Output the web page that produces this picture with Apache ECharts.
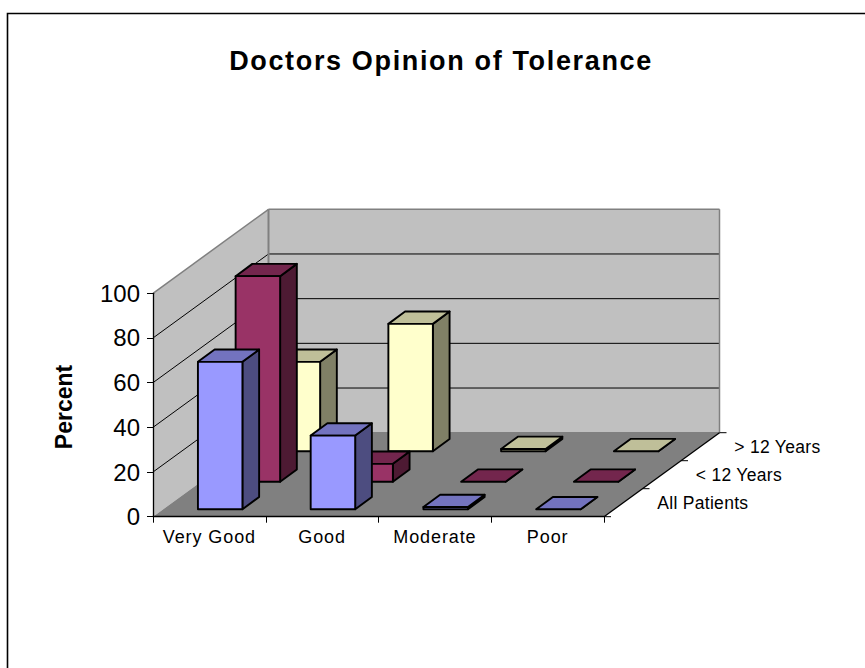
<!DOCTYPE html>
<html>
<head>
<meta charset="utf-8">
<style>
html,body{margin:0;padding:0;background:#fff}
#c{width:865px;height:668px}
text[style*="27px"]{letter-spacing:1.65px}
text[style*="18px"]{letter-spacing:.9px}
text[style*="17.5px"]{letter-spacing:.3px}
</style>
<script src="https://cdn.jsdelivr.net/npm/echarts@6/dist/echarts.min.js"></script>
</head>
<body>
<div id="c"></div>
<script>
var categories = ['Very Good', 'Good', 'Moderate', 'Poor'];
var rowNames = ['All Patients', '< 12 Years', '> 12 Years'];
var allPatients = [66, 33, 1, 0];
var under12 = [92, 8, 0, 0];
var over12 = [40, 57, 1, 0];
var yTicks = [20, 40, 60, 80];

var rowValues = [allPatients, under12, over12];
var faces = [
  { front: '#9999FF', top: '#7373BF', side: '#4D4D80' },
  { front: '#993366', top: '#73264D', side: '#4D1A33' },
  { front: '#FFFFCC', top: '#BFBF99', side: '#808066' }
];
var DX = 115.5, DY = 84;              // oblique depth of the floor
var rowX = [10.8, 48.5, 88.5], rowY = [7.4, 35, 65.5];
var BAR_W = 44.5, BAR_DX = 16.7, BAR_DY = 12.3;

function poly(pts, fill, z2, stroke, lw) {
  return { type: 'polygon', z2: z2, shape: { points: pts },
    style: { fill: fill, stroke: stroke || null, lineWidth: lw || 0, lineJoin: 'round' } };
}
function seg(a, b, color, lw, z2) {
  return { type: 'line', z2: z2, shape: { x1: a[0], y1: a[1], x2: b[0], y2: b[1] },
    style: { stroke: color, lineWidth: lw } };
}
function renderWalls(params, api) {
  var n = categories.length;
  var bl = api.coord([0, 0]), bandW = api.size([1, 0])[0];
  var x0 = bl[0] - bandW / 2, x1 = x0 + bandW * n;
  var y0 = bl[1], yTop = api.coord([0, 100])[1];
  var kids = [];
  var A = [x0, y0], B = [x1, y0], C = [x1 + DX, y0 - DY], D = [x0 + DX, y0 - DY];
  var At = [x0, yTop], Dt = [x0 + DX, yTop - DY], Ct = [x1 + DX, yTop - DY];
  kids.push(poly([At, Dt, D, A], '#C0C0C0', 1));
  kids.push(poly([Dt, Ct, C, D], '#C0C0C0', 1));
  kids.push(poly([A, B, C, D], '#808080', 2));
  yTicks.forEach(function (t) {
    var y = api.coord([0, t])[1];
    kids.push(seg([x0, y], [x0 + DX, y - DY], '#000', 1, 3));
    kids.push(seg([x0 + DX, y - DY], [x1 + DX, y - DY], '#000', 1, 3));
  });
  kids.push(seg(At, Dt, '#808080', 1.5, 4));
  kids.push(seg(Dt, Ct, '#808080', 1.5, 4));
  kids.push(seg(Dt, D, '#808080', 2, 4));
  kids.push(seg(Ct, C, '#808080', 1.5, 4));
  kids.push(seg(D, C, '#808080', 1.5, 4));
  kids.push(seg(B, C, '#000', 1.3, 5));
  // depth axis ticks and labels
  rowNames.forEach(function (name, r) {
    var f = (r + 1) / rowNames.length;
    var p = [x1 + DX * f, y0 - DY * f];
    kids.push(seg(p, [p[0] + 7, p[1]], '#000', 1, 5));
    var m = (r + 0.5) / rowNames.length;
    kids.push({ type: 'text', z2: 6, style: {
      x: x1 + DX * m + 34, y: y0 - DY * m, text: name, fill: '#000',
      font: '17.5px "Liberation Sans", Arial, sans-serif', align: 'left', verticalAlign: 'middle' } });
  });
  kids.push(seg(B, [B[0] + 7, B[1]], '#000', 1, 5));
  return { type: 'group', children: kids };
}
function barRenderer(r) {
  return function (params, api) {
    var c = api.coord([api.value(0), 0]);
    var t = api.coord([api.value(0), api.value(1)]);
    var l = c[0] + rowX[r] - BAR_W / 2, rr = l + BAR_W;
    var b = c[1] - rowY[r], top = b - (c[1] - t[1]);
    var col = faces[r];
    var lw = 1.9, kids = [];
    if (b > top) kids.push(poly([[l, top], [rr, top], [rr, b], [l, b]], col.front, 2, '#000', lw));
    kids.push(poly([[rr, top], [rr + BAR_DX, top - BAR_DY], [rr + BAR_DX, b - BAR_DY], [rr, b]], col.side, 1, '#000', lw));
    kids.push(poly([[l, top], [l + BAR_DX, top - BAR_DY], [rr + BAR_DX, top - BAR_DY], [rr, top]], col.top, 1, '#000', lw));
    return { type: 'group', children: kids };
  };
}
var series = [{
  type: 'custom', name: 'walls', z: 1, clip: false, silent: true,
  renderItem: renderWalls, data: [[categories[0], 0]], encode: { x: 0, y: 1 }
}];
for (var r = rowNames.length - 1; r >= 0; r--) {
  series.push({
    type: 'custom', name: rowNames[r], z: 2 + (rowNames.length - r), clip: false,
    renderItem: barRenderer(r),
    data: categories.map(function (c, i) { return [c, rowValues[r][i]]; }),
    encode: { x: 0, y: 1 }
  });
}
var chart = echarts.init(document.getElementById('c'), null, { renderer: 'svg', width: 865, height: 668 });
chart.setOption({
  animation: false,
  backgroundColor: '#fff',
  textStyle: { fontFamily: '"Liberation Sans", Arial, sans-serif' },
  title: {
    text: 'Doctors Opinion of Tolerance', left: 436, top: 42, textAlign: 'center',
    textStyle: { fontSize: 27, fontWeight: 'bold', color: '#000', fontFamily: '"Liberation Sans", Arial, sans-serif' }
  },
  graphic: [{
    type: 'polyline', z: 100,
    shape: { points: [[7.5, 668], [7.5, 13.5], [865, 13.5]] },
    style: { stroke: '#000', lineWidth: 1.6, fill: null }
  }],
  grid: { left: 153, top: 293.3, width: 451, height: 223.4, containLabel: false },
  xAxis: {
    type: 'category', data: categories, z: 10,
    axisLine: { show: true, lineStyle: { color: '#000', width: 1.3 } },
    axisTick: { show: true, alignWithLabel: false, length: 6, lineStyle: { color: '#000', width: 1 } },
    axisLabel: { color: '#000', fontSize: 18, margin: 11, interval: 0,
      fontFamily: '"Liberation Sans", Arial, sans-serif' },
    splitLine: { show: false }
  },
  yAxis: {
    type: 'value', min: 0, max: 100, interval: 20, z: 10,
    name: 'Percent', nameLocation: 'middle', nameGap: 78, nameRotate: 90,
    nameTextStyle: { fontSize: 23, fontWeight: 'bold', color: '#000', padding: [0, 4, 0, 0],
      fontFamily: '"Liberation Sans", Arial, sans-serif' },
    axisLine: { show: true, lineStyle: { color: '#000', width: 1.3 } },
    axisTick: { show: true, length: 6, lineStyle: { color: '#000', width: 1 } },
    axisLabel: { color: '#000', fontSize: 24, margin: 13, padding: [0, 0, 3, 0],
      fontFamily: '"Liberation Sans", Arial, sans-serif' },
    splitLine: { show: false }
  },
  series: series
});
</script>
</body>
</html>
